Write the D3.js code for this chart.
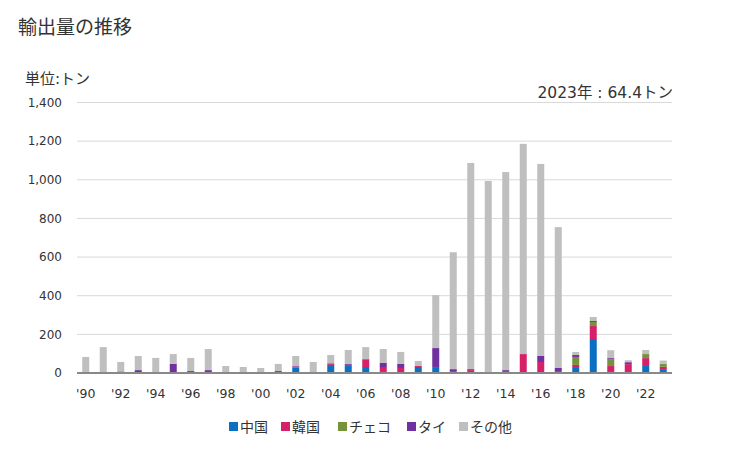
<!DOCTYPE html>
<html><head><meta charset="utf-8">
<script src="https://cdn.jsdelivr.net/npm/d3@7"></script>
<style>body{margin:0;background:#fff}svg{display:block}</style>
</head><body>
<svg id="c" width="729" height="450"></svg>
<script>
const years = d3.range(1990, 2024);
const seriesNames = ["中国", "韓国", "チェコ", "タイ", "その他"];
const colors = ["#0a70c2", "#d6206a", "#76933c", "#7030a0", "#bfbfbf"];
const china  = [0,5,0,0,5,0,0,0,0,0, 0,0,28,5,36,36,31,10,0,31, 26,5,5,5,0,0,5,0,26,176, 10,10,36,16];
const korea  = [0,0,5,0,0,5,0,0,0,0, 5,5,5,0,10,5,38,21,26,5, 5,5,10,0,10,98,52,10,16,67, 26,36,41,16];
const czech  = [0,0,0,0,0,0,0,0,0,0, 0,0,0,0,5,0,0,0,0,0, 0,0,0,0,0,0,0,0,41,21, 36,0,21,16];
const thai   = [5,0,3,15,0,42,10,15,0,0, 0,5,3,0,0,5,3,21,21,0, 98,10,5,0,5,0,31,16,10,5, 5,10,0,0];
const others = [78,129,49,73,73,51,68,109,36,31, 21,37,52,52,42,73,62,72,62,26, 274,605,1067,989,1025,1088,994,729,16,21, 41,10,21,16.4];
const yTicks = [0,200,400,600,800,1000,1200,1400];
const xTickYears = years.filter(y => y % 2 === 0);

const rows = years.map((y,i) => ({year:y, "中国":china[i], "韓国":korea[i], "チェコ":czech[i], "タイ":thai[i], "その他":others[i]}));
const stack = d3.stack().keys(seriesNames)(rows);

const svg = d3.select("#c");
const font = "'DejaVu Sans', Verdana, sans-serif";
const mixfont = "'DejaVu Sans', 'Noto Sans CJK JP', sans-serif";
const jfont = "'Noto Sans CJK JP', sans-serif";

const x = d3.scaleBand().domain(years).range([77, 672]).paddingInner(0.6).paddingOuter(0.3);
const y = d3.scaleLinear().domain([0,1400]).range([373, 102.5]);

// grid
svg.append("g").selectAll("line").data(yTicks.filter(d=>d>0)).join("line")
  .attr("x1",77).attr("x2",672).attr("y1",d=>y(d)).attr("y2",d=>y(d))
  .attr("stroke","#d9d9d9").attr("stroke-width",1);

// y axis
const yAxis = svg.append("g").attr("transform","translate(77,0)")
  .call(d3.axisLeft(y).tickValues(yTicks).tickSize(0).tickPadding(15).tickFormat(d3.format(",")));
yAxis.select(".domain").remove();
yAxis.selectAll("text").attr("font-family",font).attr("font-size",12).attr("fill","#333");

// bars
svg.append("g").selectAll("g").data(stack).join("g")
  .attr("fill",(d,i)=>colors[i])
  .selectAll("rect").data(d=>d).join("rect")
  .attr("x",d=>x(d.data.year)).attr("width",x.bandwidth())
  .attr("y",d=>y(d[1])).attr("height",d=>Math.max(0,y(d[0])-y(d[1])));

// x axis
const xAxis = svg.append("g").attr("transform","translate(0,373)")
  .call(d3.axisBottom(x).tickValues(xTickYears).tickSize(0).tickPadding(16)
    .tickFormat(d=>"'"+String(d).slice(2)));
xAxis.select(".domain").attr("stroke","#898989").attr("stroke-width",2).attr("d","M77,0H672");
xAxis.selectAll("text").attr("font-family",font).attr("font-size",12.5).attr("fill","#333");

// titles
svg.append("text").attr("x",18).attr("y",34).attr("font-family",jfont).attr("font-size",19).attr("fill","#333").text("輸出量の推移");
svg.append("text").attr("x",25).attr("y",84).attr("font-family",mixfont).attr("font-size",15).attr("fill","#333").text("単位:トン");
svg.append("text").attr("x",673).attr("y",98).attr("text-anchor","end").attr("font-family",mixfont).attr("font-size",15.5).attr("fill","#333").text("2023年 : 64.4トン");

// legend
const legendX = [229, 281, 338, 407, 459];
const lg = svg.append("g").selectAll("g").data(seriesNames).join("g")
  .attr("transform",(d,i)=>`translate(${legendX[i]},426)`);
lg.append("rect").attr("x",0).attr("y",-4).attr("width",9).attr("height",9).attr("fill",(d,i)=>colors[i]);
lg.append("text").attr("x",11).attr("y",5.5).attr("font-family",jfont).attr("font-size",14).attr("fill","#333").text(d=>d);
</script>
</body></html>
